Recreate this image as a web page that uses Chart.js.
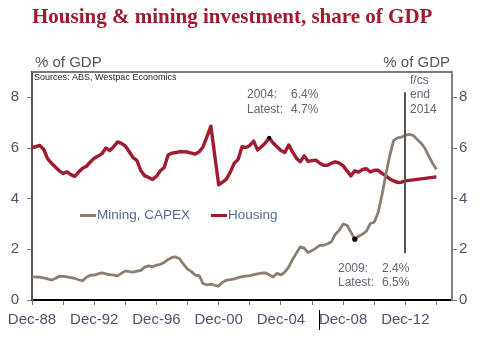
<!DOCTYPE html>
<html>
<head>
<meta charset="utf-8">
<script src="https://cdn.jsdelivr.net/npm/chart.js@4/dist/chart.umd.min.js"></script>
<style>
  html, body { margin: 0; padding: 0; background: #ffffff; overflow: hidden; }
  canvas { display: block; }
</style>
</head>
<body>
<canvas id="chart" width="486" height="340"></canvas>
<script>
// Quarterly categories, Dec-88 through Dec-15
const MONTHS = ['Mar', 'Jun', 'Sep', 'Dec'];
const quarterLabels = [];
for (let i = 0; i < 109; i++) {
  const year = 1988 + Math.floor((i + 3) / 4);
  quarterLabels.push(MONTHS[(i + 3) % 4] + '-' + String(year % 100).padStart(2, '0'));
}

// Mining investment (CAPEX), % of GDP, Dec-88 to Dec-14 (forecasts after Dec-12)
const miningCapex = [
  0.92, 0.90, 0.90, 0.87, 0.83, 0.79, 0.85, 0.94, 0.93, 0.91,
  0.88, 0.85, 0.80, 0.76, 0.90, 0.98, 0.98, 1.03, 1.07, 1.03,
  1.00, 0.98, 0.95, 1.05, 1.15, 1.12, 1.10, 1.14, 1.17, 1.30,
  1.35, 1.31, 1.38, 1.41, 1.48, 1.60, 1.68, 1.70, 1.62, 1.40,
  1.22, 1.12, 0.98, 0.96, 0.65, 0.60, 0.63, 0.58, 0.55, 0.70,
  0.78, 0.80, 0.83, 0.88, 0.92, 0.94, 0.96, 1.00, 1.03, 1.06,
  1.07, 1.00, 0.91, 1.05, 0.99, 1.10, 1.30, 1.60, 1.85, 2.10,
  2.05, 1.87, 1.95, 2.05, 2.16, 2.16, 2.22, 2.30, 2.60, 2.75,
  3.00, 2.95, 2.68, 2.40, 2.52, 2.60, 2.72, 3.02, 3.07, 3.45,
  4.15, 4.95, 5.70, 6.30, 6.40, 6.43, 6.50, 6.54, 6.50, 6.35,
  6.20, 6.00, 5.69, 5.40, 5.16
];

// Housing investment, % of GDP, Dec-88 to Dec-14 (forecasts after Dec-12)
const housingInvest = [
  6.02, 6.05, 6.10, 5.95, 5.58, 5.40, 5.25, 5.10, 5.00, 5.06,
  4.95, 4.88, 5.05, 5.20, 5.28, 5.45, 5.60, 5.68, 5.78, 6.00,
  5.90, 6.05, 6.24, 6.18, 6.08, 5.85, 5.62, 5.50, 5.10, 4.90,
  4.84, 4.76, 4.88, 5.10, 5.23, 5.72, 5.80, 5.82, 5.86, 5.85,
  5.84, 5.80, 5.76, 5.85, 6.05, 6.45, 6.86, 5.70, 4.55, 4.65,
  4.77, 5.05, 5.40, 5.55, 6.05, 6.02, 6.10, 6.27, 5.92, 6.05,
  6.20, 6.40, 6.20, 6.05, 5.90, 5.82, 6.12, 5.85, 5.60, 5.46,
  5.69, 5.47, 5.50, 5.52, 5.40, 5.32, 5.32, 5.40, 5.45, 5.40,
  5.30, 5.10, 4.90, 5.10, 5.05, 5.15, 5.18, 5.05, 5.12, 5.12,
  5.00, 4.90, 4.78, 4.70, 4.64, 4.65, 4.70, 4.72, 4.74, 4.76,
  4.78, 4.80, 4.82, 4.84, 4.86
];

const yTicks = [0, 2, 4, 6, 8];
const HOUSING_PEAK = 61;     // 2004 high
const MINING_TROUGH = 83;    // 2009 low
const FORECAST_START = 96;   // Dec-12, last actual quarter

const SANS = "'Liberation Sans', Arial, sans-serif";
const HOUSING_RED = '#a01b2e';
const MINING_TAUPE = '#8c7e73';
const TICK_TEXT = '#4a5471';
const NOTE_TEXT = '#626576';

const fmt = v => v.toFixed(1) + '%';

const decorations = {
  id: 'decorations',
  beforeDatasetsDraw(chart) {
    const { ctx, chartArea: a } = chart;
    ctx.save();
    // frame top edge
    ctx.strokeStyle = '#7a7a7a';
    ctx.lineWidth = 2;
    ctx.beginPath();
    ctx.moveTo(a.left, a.top);
    ctx.lineTo(a.right, a.top);
    ctx.stroke();
    ctx.restore();
  },
  afterDatasetsDraw(chart) {
    const { ctx, scales: { x, y } } = chart;
    const fx = Math.round(x.getPixelForValue(FORECAST_START));
    ctx.save();
    ctx.strokeStyle = '#555555';
    ctx.lineWidth = 2;
    ctx.beginPath();
    ctx.moveTo(fx, y.getPixelForValue(8.2));
    ctx.lineTo(fx, y.getPixelForValue(1.85));
    ctx.stroke();
    ctx.restore();
  },
  afterDraw(chart) {
    const { ctx } = chart;
    ctx.save();

    // heading
    ctx.fillStyle = HOUSING_RED;
    ctx.font = "bold 21px 'Liberation Serif', 'Times New Roman', serif";
    ctx.textBaseline = 'alphabetic';
    ctx.textAlign = 'left';
    ctx.fillText('Housing & mining investment, share of GDP', 32, 23);

    // axis units
    ctx.fillStyle = '#555555';
    ctx.font = '15px ' + SANS;
    ctx.fillText('% of GDP', 35, 67);
    ctx.textAlign = 'right';
    ctx.fillText('% of GDP', 450, 67);

    // source line
    ctx.textAlign = 'left';
    ctx.fillStyle = '#222222';
    ctx.font = '9px ' + SANS;
    ctx.fillText('Sources: ABS, Westpac Economics', 34, 80);

    // legend
    const ds = chart.data.datasets;
    const legendItems = [
      { x: 80, label: ds[0].label, color: ds[0].borderColor },
      { x: 211, label: ds[1].label, color: ds[1].borderColor }
    ];
    ctx.font = '13.5px ' + SANS;
    ctx.textBaseline = 'middle';
    legendItems.forEach(item => {
      ctx.strokeStyle = item.color;
      ctx.lineWidth = 3;
      ctx.beginPath();
      ctx.moveTo(item.x, 215.5);
      ctx.lineTo(item.x + 16, 215.5);
      ctx.stroke();
      ctx.fillStyle = '#566a92';
      ctx.fillText(item.label, item.x + 17, 215.5);
    });

    // notes
    ctx.fillStyle = NOTE_TEXT;
    ctx.font = '12px ' + SANS;
    ctx.fillText('2004:', 247, 95);
    ctx.fillText(fmt(housingInvest[HOUSING_PEAK]), 291, 95);
    ctx.fillText('Latest:', 247, 109.5);
    ctx.fillText(fmt(housingInvest[FORECAST_START]), 291, 109.5);

    ctx.fillText('2009:', 338, 269);
    ctx.fillText(fmt(miningCapex[MINING_TROUGH]), 382, 269);
    ctx.fillText('Latest:', 338, 282.5);
    ctx.fillText(fmt(miningCapex[FORECAST_START]), 382, 282.5);

    ctx.fillText('f/cs', 410, 81);
    ctx.fillText('end', 410, 95);
    ctx.fillText('2014', 410, 109.5);

    // text cursor left under the axis
    ctx.strokeStyle = '#000000';
    ctx.lineWidth = 1;
    ctx.beginPath();
    ctx.moveTo(319.5, 310);
    ctx.lineTo(319.5, 330);
    ctx.stroke();

    ctx.restore();
  }
};

const yAxis = (position, width, padding, borderColor) => ({
  type: 'linear',
  position,
  display: true,
  min: 0,
  max: 9,
  afterFit: s => { s.width = width; },
  border: { display: true, color: borderColor, width: 2 },
  grid: {
    drawOnChartArea: false,
    drawTicks: true,
    tickLength: 5,
    tickWidth: 1,
    tickColor: c => (c.tick && yTicks.includes(c.tick.value)) ? '#777777' : 'rgba(0,0,0,0)'
  },
  ticks: {
    stepSize: 2,
    includeBounds: false,
    padding,
    color: TICK_TEXT,
    font: { family: SANS, size: 15 },
    callback: v => yTicks.includes(v) ? String(v) : ''
  }
});

new Chart(document.getElementById('chart'), {
  type: 'line',
  data: {
    labels: quarterLabels,
    datasets: [
      {
        label: 'Mining, CAPEX',
        data: miningCapex,
        borderColor: MINING_TAUPE,
        borderWidth: 2.8,
        tension: 0,
        borderJoinStyle: 'round',
        pointRadius: c => c.dataIndex === MINING_TROUGH ? 2.6 : 0,
        pointBackgroundColor: '#000000',
        pointBorderWidth: 0,
        yAxisID: 'y'
      },
      {
        label: 'Housing',
        data: housingInvest,
        borderColor: HOUSING_RED,
        borderWidth: 3.4,
        tension: 0,
        borderJoinStyle: 'round',
        pointRadius: c => c.dataIndex === HOUSING_PEAK ? 2 : 0,
        pointBackgroundColor: '#000000',
        pointBorderWidth: 0,
        yAxisID: 'y'
      }
    ]
  },
  options: {
    responsive: false,
    animation: false,
    devicePixelRatio: 1,
    layout: { padding: { top: 72, left: 0, right: 0, bottom: 0 } },
    plugins: {
      legend: { display: false },
      title: { display: false },
      tooltip: { enabled: false }
    },
    scales: {
      x: {
        type: 'category',
        offset: false,
        afterFit: s => { s.height = 40; },
        border: { display: true, color: '#000000', width: 2 },
        grid: {
          drawOnChartArea: false,
          drawTicks: true,
          tickLength: 5,
          tickWidth: 1,
          tickColor: c => (c.index % 8 === 0) ? '#777777' : 'rgba(0,0,0,0)'
        },
        ticks: {
          autoSkip: false,
          maxRotation: 0,
          minRotation: 0,
          padding: 6,
          color: TICK_TEXT,
          font: { family: SANS, size: 15 },
          callback: function (v, i) { return i % 16 === 0 ? this.getLabelForValue(v) : ''; }
        }
      },
      y: yAxis('left', 32, 8, '#555555'),
      y2: yAxis('right', 34, 2, '#808080')
    }
  },
  plugins: [decorations]
});
</script>
</body>
</html>
